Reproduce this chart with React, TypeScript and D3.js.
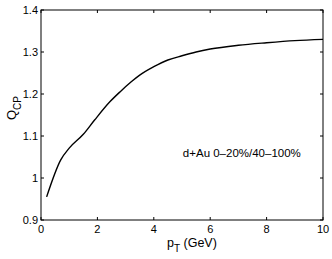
import { useEffect, useRef } from 'react';
import * as d3 from 'd3';

const ptValues = [0.2, 0.7, 1.0, 1.5, 1.9, 2.45, 2.8, 3.2, 3.5, 4.0, 4.5, 5.0, 5.5, 6.0, 7.0, 8.0, 9.0, 10];
const qcpValues = [0.955, 1.043, 1.071, 1.104, 1.138, 1.182, 1.205, 1.229, 1.245, 1.265, 1.281, 1.291, 1.3, 1.307, 1.316, 1.322, 1.327, 1.33];
const xTicks = [0, 2, 4, 6, 8, 10];
const yTicks = [0.9, 1, 1.1, 1.2, 1.3, 1.4];
const annotation = 'd+Au 0\u201320%/40\u2013100%';

const W = 332, H = 259;
const margin = { top: 10, right: 9, bottom: 39, left: 41 };

export default function App() {
  const ref = useRef<SVGSVGElement>(null);

  useEffect(() => {
    if (!ref.current) return;
    const svg = d3.select(ref.current);
    svg.selectAll('*').remove();

    const x = d3.scaleLinear().domain([0, 10]).range([margin.left, W - margin.right]);
    const y = d3.scaleLinear().domain([0.9, 1.4]).range([H - margin.bottom, margin.top]);
    const font = 'Liberation Sans, Arial, sans-serif';
    const tk = 3;

    // ticks on all four sides, pointing inward
    const x0 = x(0), x1 = x(10), y0 = y(0.9), y1 = y(1.4);
    xTicks.forEach(t => {
      svg.append('line').attr('x1', x(t)).attr('x2', x(t)).attr('y1', y0).attr('y2', y0 - tk).attr('stroke', '#000');
      svg.append('line').attr('x1', x(t)).attr('x2', x(t)).attr('y1', y1).attr('y2', y1 + tk).attr('stroke', '#000');
      svg.append('text').attr('x', x(t)).attr('y', y0 + 13).attr('text-anchor', 'middle')
        .attr('font-family', font).attr('font-size', 11).text(String(t));
    });
    yTicks.forEach(t => {
      svg.append('line').attr('x1', x0).attr('x2', x0 + tk).attr('y1', y(t)).attr('y2', y(t)).attr('stroke', '#000');
      svg.append('line').attr('x1', x1).attr('x2', x1 - tk).attr('y1', y(t)).attr('y2', y(t)).attr('stroke', '#000');
      svg.append('text').attr('x', x0 - 3).attr('y', y(t) + 4).attr('text-anchor', 'end')
        .attr('font-family', font).attr('font-size', 11).text(String(t));
    });

    svg.append('rect').attr('x', x0).attr('y', y1).attr('width', x1 - x0).attr('height', y0 - y1)
      .attr('fill', 'none').attr('stroke', '#000').attr('stroke-width', 1);

    const line = d3.line<number>()
      .x((_, i) => x(ptValues[i]))
      .y(d => y(d))
      .curve(d3.curveMonotoneX);
    svg.append('path').attr('d', line(qcpValues)!).attr('fill', 'none')
      .attr('stroke', '#000').attr('stroke-width', 1.4);

    svg.append('text').attr('x', x(5.03)).attr('y', y(1.05)).attr('font-family', font)
      .attr('font-size', 11.5).text(annotation);

    const xl = svg.append('text').attr('x', 167).attr('y', 247).attr('font-family', font).attr('font-size', 12.5);
    xl.append('tspan').text('p');
    xl.append('tspan').attr('font-size', 10).attr('dy', 5).text('T');
    xl.append('tspan').attr('dy', -5).text(' (GeV)');

    const yl = svg.append('text').attr('transform', 'translate(16,120) rotate(-90)')
      .attr('font-family', font).attr('font-size', 13);
    yl.append('tspan').text('Q');
    yl.append('tspan').attr('font-size', 10).attr('dy', 5).text('CP');
  }, []);

  return (
    <svg ref={ref} width={W} height={H}
      style={{ position: 'absolute', left: 0, top: 0, background: '#fff' }} />
  );
}
